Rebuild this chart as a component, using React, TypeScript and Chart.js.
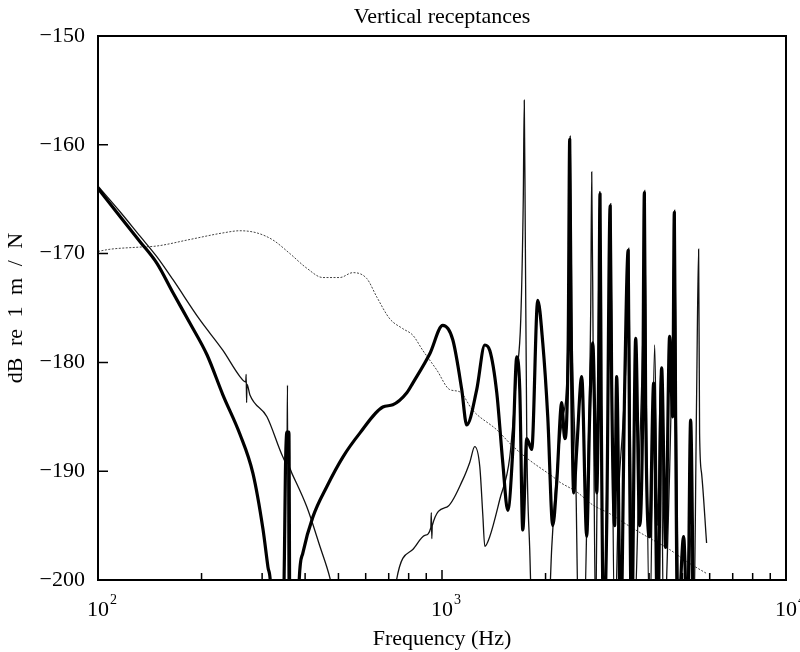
import { useEffect, useRef } from 'react';
import { Chart, registerables } from 'chart.js';

Chart.register(...registerables);

const titleText = 'Vertical receptances';
const xTitle = 'Frequency (Hz)';
const yTitle = 'dB re 1 m / N';

const xMajorTicks = [100, 1000, 10000];
const xMajorExponents = ['2', '3', '4'];
const xMinorTicks = [200, 300, 400, 500, 600, 700, 800, 900, 2000, 3000, 4000, 5000, 6000, 7000, 8000, 9000];
const yTickValues = [-200, -190, -180, -170, -160, -150];

// Thick solid line
const thickHz = [100, 115.9, 132.5, 148.4, 165.2, 185.1, 207.4, 230.8, 258.6, 282.1, 301.6, 311.9, 318.2, 320.4, 344.8, 348.2, 350.6, 354.1, 358.9, 361.3, 381.2, 384.5, 394.1, 421.4, 462.8, 515.0, 577, 673, 719.6, 790.2, 822.5, 921.6, 1005.3, 1074.4, 1141.2, 1180, 1261.7, 1331.8, 1377, 1443, 1501.9, 1553, 1606, 1649.5, 1683, 1717.1, 1763.7, 1823.2, 1898, 1963, 2029.8, 2099, 2155.7, 2228.6, 2273.8, 2327.7, 2351, 2374.8, 2414.8, 2464, 2547.9, 2634.6, 2688, 2743, 2816.9, 2854.9, 2879.8, 2903.1, 2952, 3011.8, 3082.3, 3113.4, 3176.5, 3219.3, 3307.1, 3396.8, 3477.3, 3512, 3559.3, 3655.9, 3755, 3831.2, 3875, 3908.8, 4015, 4123.9, 4235.8, 4349.8, 4467.8, 4589, 4682.1, 4735.7, 4777, 4841.4, 5039.1, 5175.8, 5281.3, 5388.3];
const thickDb = [-164.0, -166.6, -168.9, -170.9, -173.6, -176.4, -179.3, -183.0, -186.6, -190.2, -195.3, -198.8, -201, -205, -205, -198, -190, -186.4, -186.4, -205, -205, -200, -197.5, -194.2, -191.4, -188.7, -186.5, -184.1, -183.9, -182.8, -181.9, -179.2, -176.6, -177.9, -182.5, -185.75, -182.5, -178.4, -178.9, -182.8, -189.2, -193.6, -188.1, -179.5, -182.5, -195.4, -187, -188, -174.3, -178.2, -185, -195, -191, -183.7, -187, -178, -159.5, -178, -192, -188, -181.3, -196, -184.7, -178.2, -192, -180, -164.5, -184, -205, -195, -165.6, -182, -195, -181.3, -205, -182.2, -169.7, -190, -205, -177.8, -195, -185, -164.4, -184, -196, -181.9, -205, -180.5, -197, -177.6, -185, -166.2, -185, -205, -196, -205, -185.3, -205];

// Thin solid line
const thinHz = [100, 115.9, 132.5, 148.4, 165.2, 197.9, 230.8, 258.6, 268.8, 269.6, 270.4, 271.0, 276.5, 309.8, 344.8, 354.1, 355.5, 357.2, 358.9, 366.2, 404.8, 441.6, 472.2, 488.3, 719.6, 737.6, 822.5, 891.3, 927.8, 930.9, 934.0, 937.1, 1032.6, 1148.8, 1204, 1245, 1288, 1314, 1331.8, 1377, 1472, 1574, 1649.5, 1694.3, 1722.9, 1734.5, 1746.1, 1763.7, 1799, 1835.5, 2029.8, 2084.7, 2170.1, 2243.6, 2304.5, 2343.1, 2358.9, 2382.7, 2447.3, 2497, 2582.2, 2652.3, 2706.1, 2724.2, 2751.8, 2798.1, 2845.4, 2874, 2903.1, 2952, 3032.1, 3092.6, 3123.8, 3176.5, 3262.7, 3351.6, 3443, 3489, 3523.8, 3607.3, 3755, 3844.1, 3882.8, 3922, 4015, 4151.6, 4235.8, 4320.8, 4408.4, 4589, 4682.1, 4745.2, 4793.1, 4906, 5107, 5246, 5388.3, 5497.6, 5571.7, 5608, 5683.5, 5877];
const thinDb = [-163.8, -166.15, -168.4, -170.3, -172.4, -176.1, -178.9, -181.3, -181.8, -181.1, -183.7, -182.0, -183.0, -185.0, -188.7, -189.3, -182.1, -205, -189.6, -190.2, -193.3, -196.9, -199.8, -202, -205, -200, -197.2, -195.9, -195.2, -193.8, -196.2, -195.0, -193.3, -190.8, -189.2, -187.75, -189.6, -194, -196.9, -196.0, -192.6, -188.7, -181, -176, -165, -155.9, -168, -186.8, -197.2, -205, -205, -197, -189, -185, -181.9, -170, -159.2, -175, -190, -205, -205, -190, -175, -162.5, -180, -205, -178, -164.3, -182, -205, -185, -165.4, -185, -205, -192, -186, -178, -169.5, -185, -205, -188, -176, -164.2, -182, -205, -178.4, -195, -180.6, -205, -190, -178, -166, -183, -205, -205, -195, -205, -183, -169.6, -186.5, -190.2, -196.6];

// Dotted line
const dottedHz = [100, 108.4, 132.5, 148.4, 185.1, 230.8, 258.6, 289.8, 322.5, 361.3, 404.8, 450.6, 504.8, 550.6, 604.7, 646.6, 705.3, 769.3, 822.5, 879.5, 965.8, 1053, 1126, 1228, 1443, 1606, 1799, 2099, 2199, 2464, 2743, 3072, 3443, 3935, 4589, 5141, 5877];
const dottedDb = [-169.8, -169.6, -169.4, -169.3, -168.7, -168.1, -167.9, -168.1, -168.75, -170.0, -171.35, -172.2, -172.2, -171.75, -172.3, -174.0, -176.0, -176.9, -177.5, -178.9, -180.7, -182.5, -182.7, -184.4, -186.2, -187.7, -189.0, -190.5, -191.0, -191.9, -193.1, -193.9, -194.9, -196.0, -197.2, -198.3, -199.4];

const SERIF = "'Liberation Serif', 'Times New Roman', serif";

const toPoints = (xs: number[], ys: number[]) => xs.map((x, i) => ({ x, y: ys[i] }));

const framePlugin = {
  id: 'frame',
  afterDatasetsDraw(chart: any) {
    const { ctx, chartArea } = chart;
    const { left, right, top, bottom } = chartArea;
    const xs = chart.scales.x;
    const ys = chart.scales.y;
    ctx.save();
    ctx.strokeStyle = '#000';
    ctx.lineWidth = 2;
    ctx.strokeRect(left, top, right - left, bottom - top);
    ctx.lineWidth = 1.5;
    ctx.beginPath();
    xMajorTicks.forEach((v) => {
      const px = xs.getPixelForValue(v);
      ctx.moveTo(px, bottom);
      ctx.lineTo(px, bottom - 10);
    });
    xMinorTicks.forEach((v) => {
      const px = xs.getPixelForValue(v);
      ctx.moveTo(px, bottom);
      ctx.lineTo(px, bottom - 7);
    });
    yTickValues.forEach((v) => {
      const py = ys.getPixelForValue(v);
      ctx.moveTo(left, py);
      ctx.lineTo(left + 10, py);
    });
    ctx.stroke();

    ctx.fillStyle = '#000';
    // x tick labels with superscript exponents
    xMajorTicks.forEach((v, i) => {
      const px = xs.getPixelForValue(v);
      ctx.font = `22px ${SERIF}`;
      ctx.textAlign = 'center';
      ctx.textBaseline = 'alphabetic';
      const w = ctx.measureText('10').width;
      ctx.fillText('10', px, bottom + 36);
      ctx.font = `14px ${SERIF}`;
      ctx.textAlign = 'left';
      ctx.fillText(xMajorExponents[i], px + w / 2 + 1, bottom + 24);
    });

    // title centred over the plot area
    ctx.font = `22px ${SERIF}`;
    ctx.textAlign = 'center';
    ctx.textBaseline = 'middle';
    ctx.fillText(titleText, (left + right) / 2, 17);

    // y axis title
    ctx.save();
    ctx.translate(16, (top + bottom) / 2);
    ctx.rotate(-Math.PI / 2);
    try {
      (ctx as any).wordSpacing = '6px';
    } catch (e) {
      /* ignore */
    }
    ctx.font = `22px ${SERIF}`;
    ctx.textAlign = 'center';
    ctx.textBaseline = 'middle';
    ctx.fillText(yTitle, 0, 0);
    ctx.restore();

    ctx.restore();
  },
};

export default function App() {
  const canvasRef = useRef<HTMLCanvasElement | null>(null);

  useEffect(() => {
    if (!canvasRef.current) return;
    const chart = new Chart(canvasRef.current, {
      type: 'line',
      data: {
        datasets: [
          {
            label: 'thick',
            data: toPoints(thickHz, thickDb),
            borderColor: '#000',
            borderWidth: 3.2,
            pointRadius: 0,
            cubicInterpolationMode: 'monotone',
            borderJoinStyle: 'round',
            clip: 0,
          },
          {
            label: 'thin',
            data: toPoints(thinHz, thinDb),
            borderColor: '#111',
            borderWidth: 1.3,
            pointRadius: 0,
            cubicInterpolationMode: 'monotone',
            clip: 0,
          },
          {
            label: 'dotted',
            data: toPoints(dottedHz, dottedDb),
            borderColor: '#444',
            borderWidth: 1,
            borderDash: [2, 1.5],
            pointRadius: 0,
            cubicInterpolationMode: 'monotone',
            clip: 0,
          },
        ],
      },
      options: {
        responsive: false,
        animation: false,
        devicePixelRatio: 1,
        layout: { padding: { left: 0, right: 14, top: 36, bottom: 0 } },
        plugins: {
          legend: { display: false },
          tooltip: { enabled: false },
          title: { display: false },
        },
        scales: {
          x: {
            type: 'logarithmic',
            min: 100,
            max: 10000,
            grid: { display: false, drawTicks: false },
            border: { display: false },
            ticks: { display: false },
            title: {
              display: true,
              text: xTitle,
              color: '#000',
              font: { family: SERIF, size: 22 },
              padding: { top: 0, bottom: 0 },
            },
            afterFit: (scale: any) => {
              scale.height = 72;
            },
          },
          y: {
            type: 'linear',
            min: -200,
            max: -150,
            grid: { display: false, drawTicks: false },
            border: { display: false },
            ticks: {
              stepSize: 10,
              color: '#000',
              padding: 13,
              font: { family: SERIF, size: 22 },
              callback: (v: any) => (Number(v) < 0 ? '\u2212' : '') + Math.abs(Number(v)),
            },
            title: { display: false },
            afterFit: (scale: any) => {
              scale.width = 98;
            },
          },
        },
      },
      plugins: [framePlugin],
    });
    return () => chart.destroy();
  }, []);

  return (
    <div style={{ position: 'fixed', left: 0, top: 0, width: 800, height: 652, background: '#fff' }}>
      <canvas ref={canvasRef} width={800} height={652} style={{ display: 'block' }} />
    </div>
  );
}
